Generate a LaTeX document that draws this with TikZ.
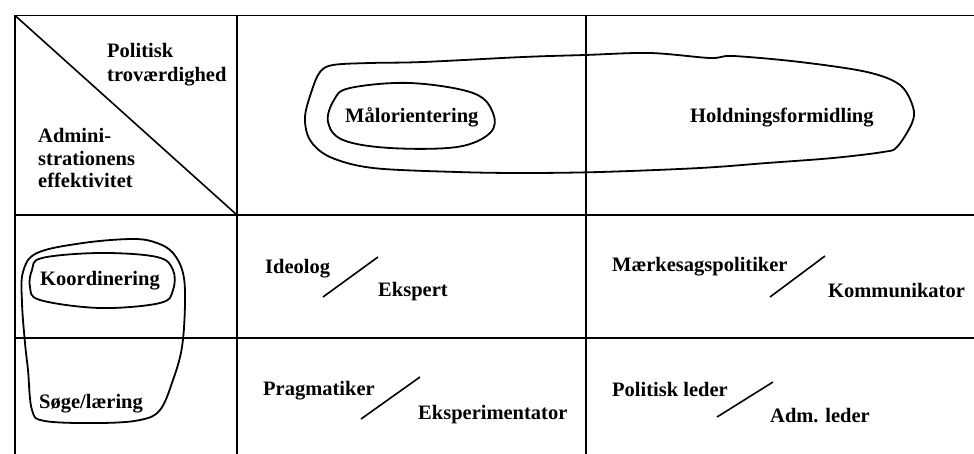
\documentclass[tikz,border=0pt]{standalone}
\usepackage{fontspec}
\setmainfont{Liberation Serif}
\begin{document}
\begin{tikzpicture}[x=1pt,y=-1pt,
  grid/.style={line width=1.6pt,black},
  loop/.style={line width=1.8pt,black,line join=round},
  slash/.style={line width=1.6pt,black},
  lbl/.style={font=\fontsize{20.5}{24}\selectfont\bfseries,inner sep=0pt,anchor=base west}]
\useasboundingbox (0,0) rectangle (974,454);
% grid
\draw[grid] (15,454) -- (15,15.5) -- (974,15.5);
\draw[grid] (15,215) -- (974,215);
\draw[grid] (15,338) -- (974,338);
\draw[grid] (237,15.5) -- (237,454);
\draw[grid] (586,15.5) -- (586,454);
\draw[grid] (15,15.5) -- (237,215);
% header texts
\node[lbl] (pol1) at (107,58) {Politisk};
\node[lbl] (pol2) at (107,82) {troværdighed};
\node[lbl] (adm1) at (38,143) {Admini-};
\node[lbl] (adm2) at (38,166) {strationens};
\node[lbl] (adm3) at (38,188) {effektivitet};
% big loop
\draw[loop] plot[smooth cycle,tension=0.55] coordinates {
 (333,65) (370,63) (423,62) (523,57) (585,55) (650,53) (710,58) (733,56) (800,62)
 (867,72) (900,85) (913,107) (912,123) (897,147) (883,152) (833,158)
 (767,163) (700,168) (600,172) (523,173) (457,172) (373,168) (330,157)
 (310,140) (305,117) (312,90) (320,72)};
\draw[loop] plot[smooth cycle,tension=0.6] coordinates {
 (350,88) (410,83) (473,93) (493,113) (490,133) (457,147) (390,148)
 (343,140) (328,122) (334,100)};
\node[lbl] (mal) at (345,123) {Målorientering};
\node[lbl] (hold) at (690,123) {Holdningsformidling};
% Koordinering loops
\draw[loop] plot[smooth cycle,tension=0.6] coordinates {
 (133,239) (83,243) (37,253) (23,272) (22,303) (25,343) (28,370) (32,410)
 (45,421) (100,423) (140,420) (160,410) (173,380) (182,347) (185,303)
 (183,273) (173,253) (157,243)};
\draw[loop] plot[smooth cycle,tension=0.6] coordinates {
 (42,258) (100,253) (157,257) (173,270) (173,290) (160,303) (100,308)
 (40,300) (30,287) (32,270)};
\node[lbl] (koord) at (40,285) {Koordinering};
\node[lbl] (soge) at (39,408) {Søge/læring};
% cell texts
\node[lbl] (ideo) at (265,273) {Ideolog};
\node[lbl] (eksp) at (378,297) {Ekspert};
\node[lbl] (prag) at (263,395) {Pragmatiker};
\node[lbl] (eksm) at (418,419) {Eksperimentator};
\node[lbl] (maerk) at (612,272) {Mærkesagspolitiker};
\node[lbl] (komm) at (828,298) {Kommunikator};
\node[lbl] (polled) at (612,396) {Politisk leder};
\node[lbl] (admled) at (770,422) {Adm. leder};
% slashes
\coordinate (s1a) at (323,297); \coordinate (s1b) at (378,257);
\coordinate (s2a) at (361,419); \coordinate (s2b) at (420,377);
\coordinate (s3a) at (770,297); \coordinate (s3b) at (825,256);
\coordinate (s4a) at (717,417); \coordinate (s4b) at (773,382);
\draw[slash] (s1a) -- (s1b);
\draw[slash] (s2a) -- (s2b);
\draw[slash] (s3a) -- (s3b);
\draw[slash] (s4a) -- (s4b);
\end{tikzpicture}
\end{document}
